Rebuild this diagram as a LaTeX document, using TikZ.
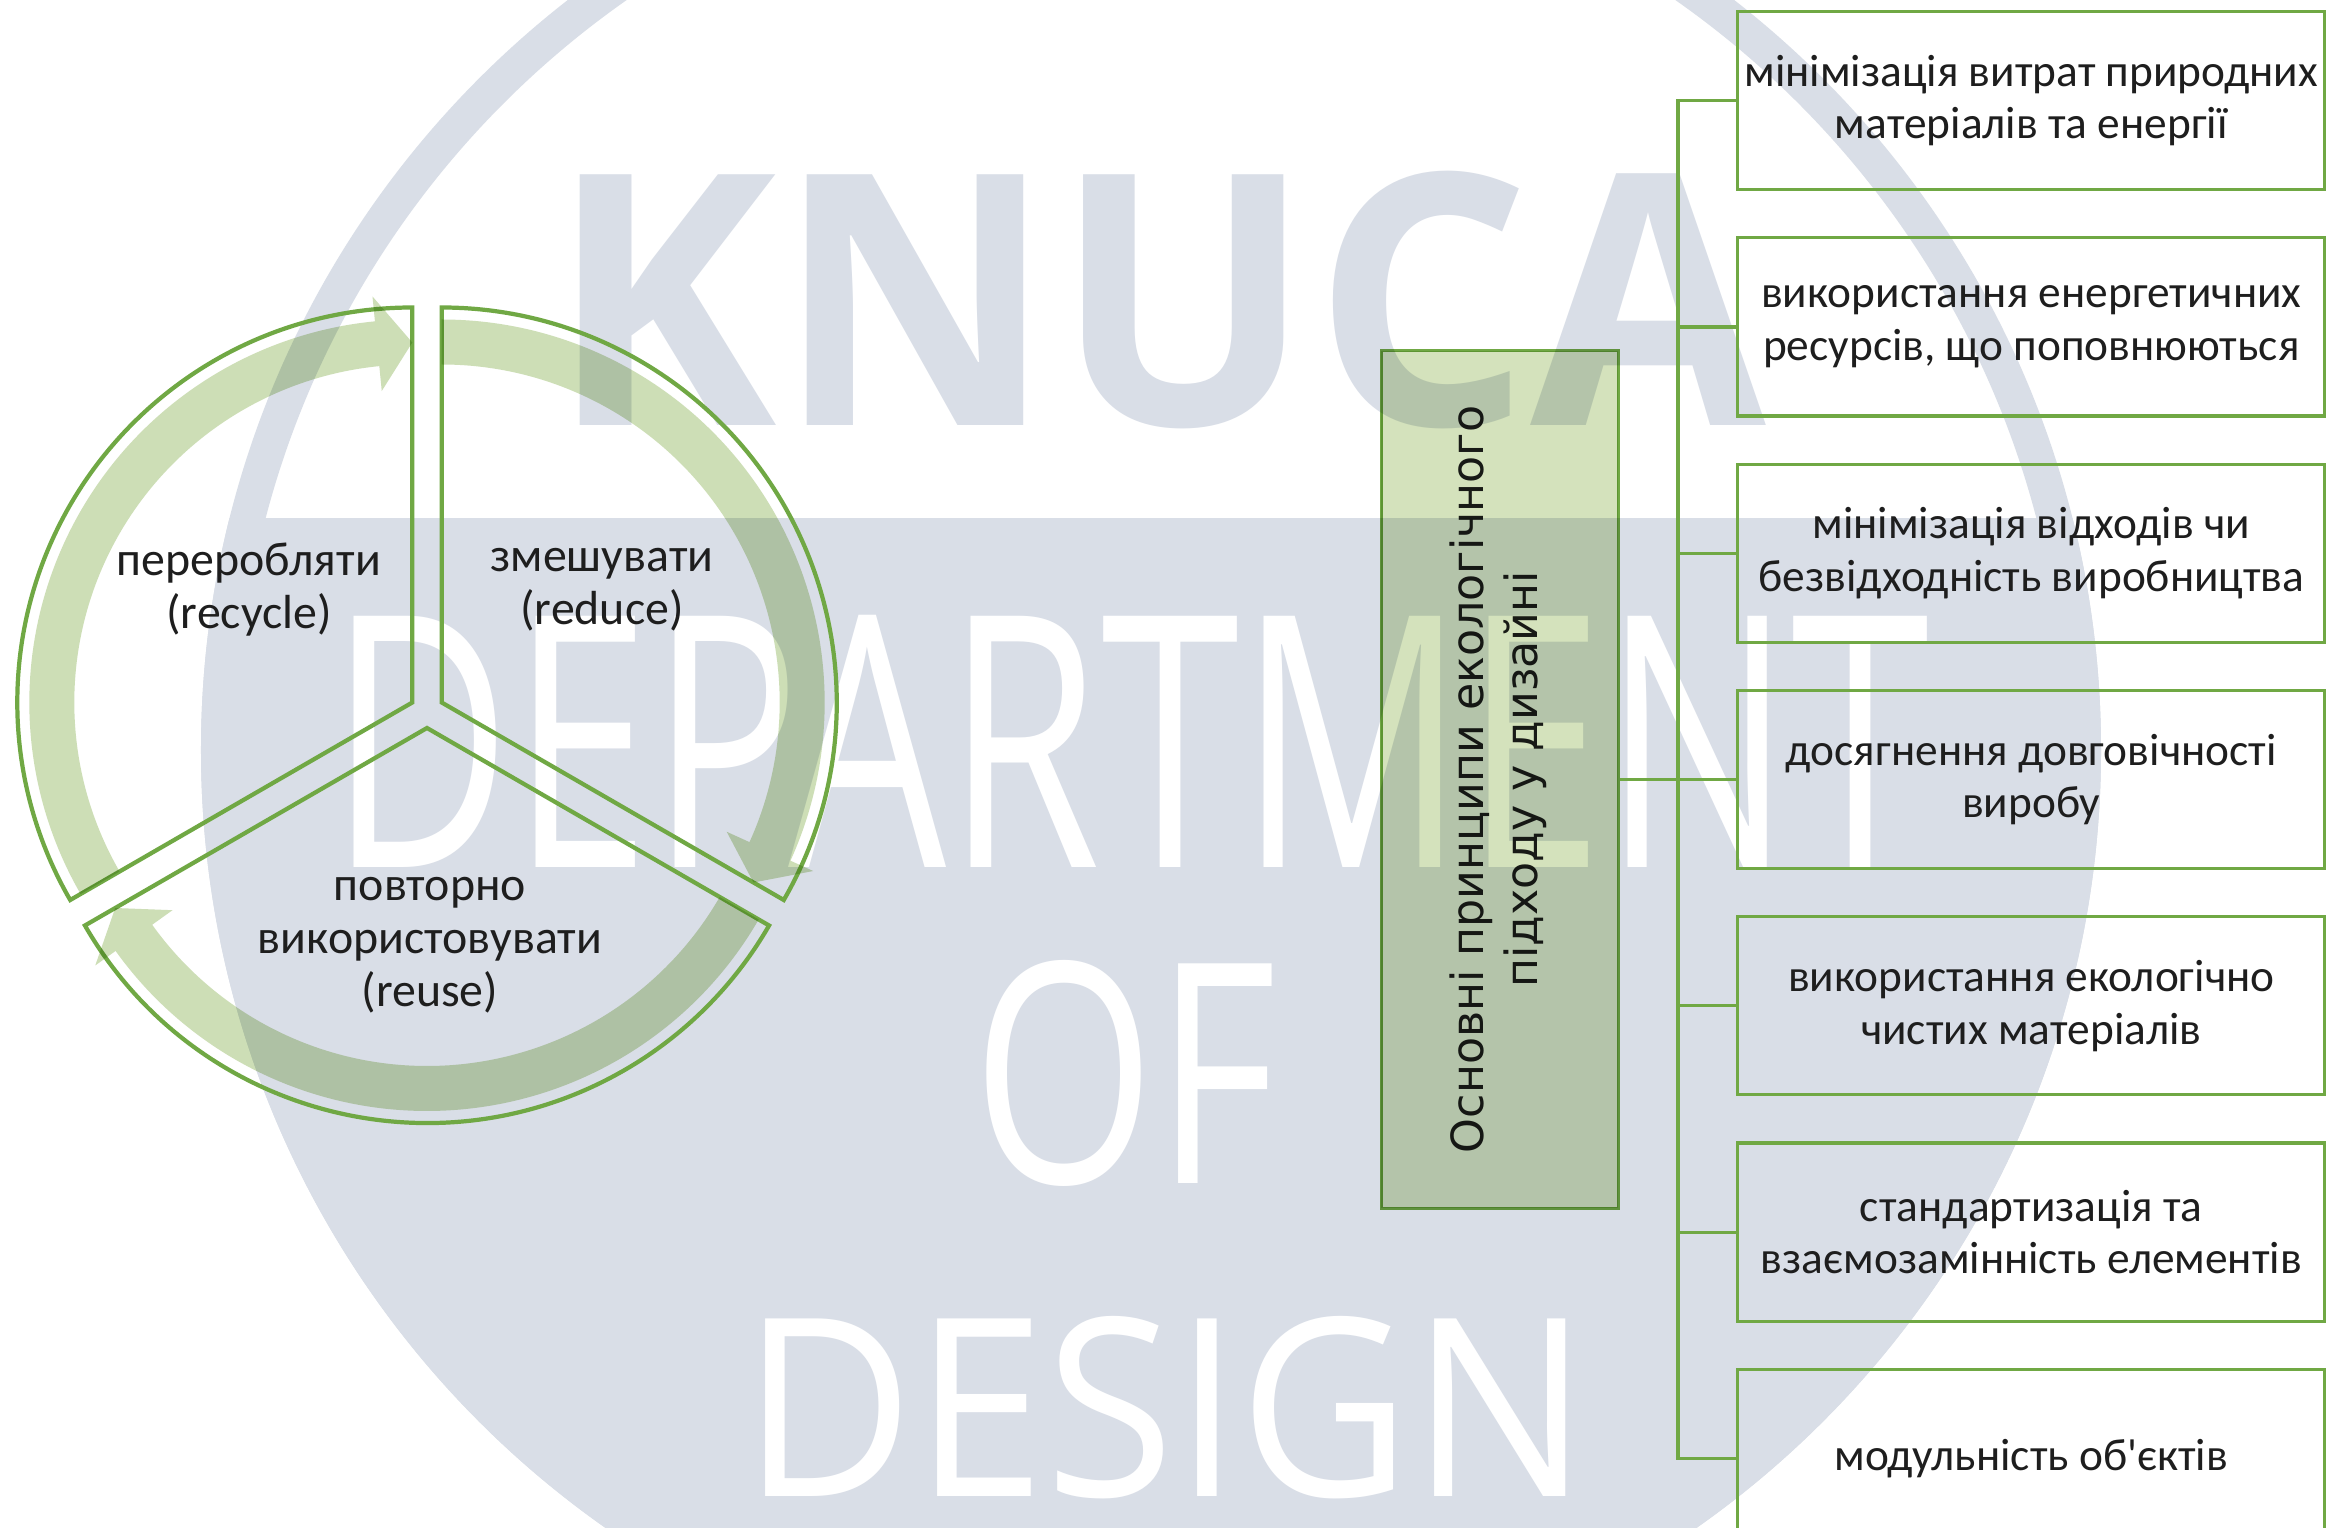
\documentclass[tikz,border=0pt]{standalone}
\usepackage{fontspec}
\usepackage{graphicx}
\usepackage{xcolor}
\usepackage{tikz}
\usetikzlibrary{positioning}
\newfontfamily\cyclefont{Carlito}
\newfontfamily\corefont{DejaVu Sans}
\newfontfamily\wmfont{Open Sans}
\definecolor{wmgray}{RGB}{217,222,231}
\definecolor{leafgreen}{RGB}{112,168,68}
\definecolor{arrowgreen}{RGB}{205,222,182}
\definecolor{coregreen}{RGB}{212,226,188}
\definecolor{inkgray}{RGB}{30,30,30}

\begin{document}
\begin{tikzpicture}[
    x=0.01cm, y=0.01cm,
    wmword/.style={inner sep=0pt, anchor=south west, font=\wmfont},
    sector/.style={draw=leafgreen, line width=1.2pt, line join=miter},
    cyclearrow/.style={fill=arrowgreen, blend mode=multiply},
    cyclelabel/.style={font=\cyclefont\fontsize{13.6pt}{15.1pt}\selectfont, text=inkgray, align=center, inner sep=0pt},
    core/.style={draw=leafgreen, line width=0.9pt, fill=coregreen, blend mode=multiply, minimum width=2.37cm, minimum height=8.57cm, inner sep=0pt, font=\corefont\fontsize{12.6pt}{15.3pt}\selectfont, text=inkgray},
    principle/.style={draw=leafgreen, line width=0.9pt, minimum width=5.87cm, minimum height=1.78cm, inner sep=0pt, align=center, font=\cyclefont\fontsize{12.9pt}{15pt}\selectfont, text=inkgray},
    link/.style={draw=leafgreen, line width=0.9pt}
]
    \useasboundingbox (0,0) rectangle (2326,-1528);
    \clip (0,0) rectangle (2326,-1528);
    \fill[white] (0,0) rectangle (2326,-1528);

    % Watermark behind the diagram
    \begin{scope}
        \clip (0,-519) rectangle (2326,-1528);
        \fill[wmgray] (1151,-750) circle[radius=950];
    \end{scope}
    \draw[wmgray, line width=0.35cm] (1151,-750) circle[radius=932.5];
    \node[wmword, text=wmgray] (knuca) at (549,-430) {\resizebox{12.16cm}{2.54cm}{\bfseries KNUCA}};
    \node[wmword, text=white] (department) at (329,-868) {\resizebox{15.99cm}{2.52cm}{DEPARTMENT}};
    \node[wmword, text=white] (of) at (972,-1187) {\resizebox{3.04cm}{2.23cm}{OF}};
    \node[wmword, text=white] (design) at (742,-1500) {\resizebox{8.45cm}{1.8cm}{DESIGN}};

    % Cycle - three sectors, each with its arrow
    \foreach \cx/\cy/\lo/\hi in {412.3/-702.5/90/210, 441.7/-702.5/-30/90, 427/-728/210/330} {
        \begin{scope}[shift={(\cx,\cy)}]
            \draw[sector] (0,0) -- (\lo:395) arc[start angle=\lo, end angle=\hi, radius=395] -- cycle;
            \fill[cyclearrow] (\hi:338) arc[start angle=\hi, end angle=\lo+5.6, radius=338]
                -- (\lo+5.6:313) -- (\lo:360) -- (\lo+5.6:408) -- (\lo+5.6:383)
                arc[start angle=\lo+5.6, end angle=\hi, radius=383] -- cycle;
        \end{scope}
    }

    % Cycle labels
    \node[cyclelabel] (recycle) at (249,-590) {переробляти\\(recycle)};
    \node[cyclelabel] (reduce) at (602,-590) {змешувати\\(reduce)};
    \node[cyclelabel] (reuse) at (430,-945) {повторно\\використовувати\\(reuse)};

    % Principles - right column
    \node[principle, anchor=north west] (p1) at (1736,-10) {мінімізація витрат природних\\матеріалів та енергії};
    \node[principle, below=0.45cm of p1] (p2) {використання енергетичних\\ресурсів, що поповнюються};
    \node[principle, below=0.45cm of p2] (p3) {мінімізація відходів чи\\безвідходність виробництва};
    \node[principle, below=0.45cm of p3] (p4) {досягнення довговічності\\виробу};
    \node[principle, below=0.45cm of p4] (p5) {використання екологічно\\чистих матеріалів};
    \node[principle, below=0.45cm of p5] (p6) {стандартизація та\\взаємозамінність елементів};
    \node[principle, below=0.45cm of p6] (p7) {модульність об'єктів};

    % Root box
    \node[core, left=1.16cm of p4] (core) {\rotatebox{90}{\begin{tabular}{@{}c@{}}Основні принципи екологічного\\підходу у дизайні\end{tabular}}};

    % Tree links
    \foreach \i in {1,...,7}
        \draw[link] (core.east) -- ++(58,0) |- (p\i.west);
\end{tikzpicture}
\end{document}
